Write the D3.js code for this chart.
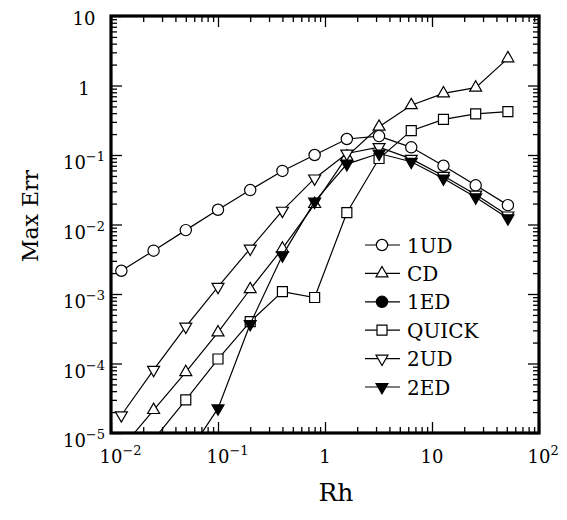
<!DOCTYPE html>
<html>
<head>
<meta charset="utf-8">
<script src="https://cdn.jsdelivr.net/npm/d3@7"></script>
<style>
  html, body { margin: 0; padding: 0; background: #fff; }
  svg { display: block; }
  text { font-family: "DejaVu Serif", serif; fill: #000; }
</style>
</head>
<body>
<svg id="chart" width="567" height="520"></svg>
<script>
// ---- data ----
const rh = [0.0125, 0.025, 0.05, 0.1, 0.2, 0.4, 0.8, 1.6, 3.2, 6.4, 12.8, 25.6, 51.2];
const err1UD  = [2.16e-3, 4.2e-3, 8.3e-3, 0.0163, 0.0313, 0.059, 0.10, 0.17, 0.187, 0.129, 0.070, 0.0366, 0.019];
const errCD   = [6e-6, 2.14e-5, 7.5e-5, 2.8e-4, 1.17e-3, 4.5e-3, 0.0197, 0.095, 0.255, 0.52, 0.77, 0.93, 2.46];
const err1ED  = [];
const errQUICK = [null, 8e-6, 3.0e-5, 1.16e-4, 4.0e-4, 1.08e-3, 8.9e-4, 0.0148, 0.089, 0.224, 0.326, 0.39, 0.42];
const err2UD  = [1.8e-5, 8.1e-5, 3.4e-4, 1.27e-3, 4.5e-3, 0.0158, 0.046, 0.105, 0.13, 0.088, 0.050, 0.027, 0.0135];
const err2ED  = [null, null, 4.5e-6, 2.26e-5, 3.7e-4, 3.6e-3, 0.0213, 0.074, 0.105, 0.080, 0.046, 0.0246, 0.0123];

const seriesNames = ["1UD", "CD", "1ED", "QUICK", "2UD", "2ED"];
const seriesValues = [err1UD, errCD, err1ED, errQUICK, err2UD, err2ED];
const seriesMarkers = ["circle", "triUp", "dot", "square", "triDown", "triDownFilled"];

const xTickExps = [-2, -1, 0, 1, 2];
const yTickExps = [1, 0, -1, -2, -3, -4, -5];
const xTitle = "Rh";
const yTitle = "Max Err";

// ---- layout ----
const L = 111, R = 539, T = 16, B = 433;
const svg = d3.select("#chart");

const x = d3.scaleLog().domain([1e-2, 1e2]).range([L, R]);
const y = d3.scaleLog().domain([1e-5, 1e1]).range([B, T]);

function minorTicks(lo, hi) {
  const out = [];
  for (let e = lo; e < hi; e++) for (let m = 2; m <= 9; m++) out.push(m * Math.pow(10, e));
  return out;
}
const xMajor = xTickExps.map(e => Math.pow(10, e));
const yMajor = yTickExps.map(e => Math.pow(10, e));
const xMinor = minorTicks(-2, 2);
const yMinor = minorTicks(-5, 1);

function drawAxis(axisFn, scale, vals, size, transform) {
  const g = svg.append("g").attr("transform", transform)
    .call(axisFn(scale).tickValues(vals).tickSizeInner(size).tickSizeOuter(0).tickFormat(""));
  g.select(".domain").remove();
  g.selectAll(".tick line").attr("stroke", "#000").attr("stroke-width", 1.3);
}
// inward ticks on all four sides
drawAxis(d3.axisBottom, x, xMajor, -11, `translate(0,${B})`);
drawAxis(d3.axisBottom, x, xMinor, -6, `translate(0,${B})`);
drawAxis(d3.axisTop, x, xMajor, -11, `translate(0,${T})`);
drawAxis(d3.axisTop, x, xMinor, -6, `translate(0,${T})`);
drawAxis(d3.axisLeft, y, yMajor, -11, `translate(${L},0)`);
drawAxis(d3.axisLeft, y, yMinor, -6, `translate(${L},0)`);
drawAxis(d3.axisRight, y, yMajor, -11, `translate(${R},0)`);
drawAxis(d3.axisRight, y, yMinor, -6, `translate(${R},0)`);

// frame
svg.append("rect").attr("x", L).attr("y", T).attr("width", R - L).attr("height", B - T)
  .attr("fill", "none").attr("stroke", "#000").attr("stroke-width", 3.2);

// tick labels
const minus = "\u2212";
function label(g, exp) {
  if (exp === 0) { g.append("tspan").text("1"); return; }
  if (exp === 1) { g.append("tspan").text("10"); return; }
  g.append("tspan").text("10");
  g.append("tspan").attr("font-size", 13).attr("dy", -8).text(exp < 0 ? minus + (-exp) : String(exp));
}
xTickExps.forEach(e => {
  const t = svg.append("text").attr("font-size", 18).attr("y", 463);
  label(t, e);
  const baseW = e === 0 ? 11.5 : 23;
  t.attr("x", x(Math.pow(10, e)) - baseW / 2);
});
yTickExps.forEach(e => {
  const t = svg.append("text").attr("font-size", 18).attr("text-anchor", "middle");
  label(t, e);
  const hasSup = !(e === 0 || e === 1);
  t.attr("x", 84).attr("y", y(Math.pow(10, e)) + (hasSup ? 14 : 9));
});

// axis titles
svg.append("text").attr("font-size", 25).attr("text-anchor", "middle")
  .attr("x", 336).attr("y", 501).text(xTitle);
svg.append("text").attr("font-size", 22).attr("text-anchor", "middle")
  .attr("transform", `translate(38,${216}) rotate(-90)`).text(yTitle);

// clip
svg.append("clipPath").attr("id", "clip").append("rect")
  .attr("x", L).attr("y", T).attr("width", R - L).attr("height", B - T);
const plot = svg.append("g").attr("clip-path", "url(#clip)");

function markerPath(kind) {
  if (kind === "circle" || kind === "dot") return d3.symbol(d3.symbolCircle, 100)();
  if (kind === "square") return d3.symbol(d3.symbolSquare, 100)();
  return d3.symbol(d3.symbolTriangle, 62)();
}
function drawMarker(g, kind, cx, cy) {
  const filled = kind === "dot" || kind === "triDownFilled";
  const rot = (kind === "triDown" || kind === "triDownFilled") ? " rotate(180)" : "";
  g.append("path").attr("d", markerPath(kind))
    .attr("transform", `translate(${cx},${cy})${rot}`)
    .attr("fill", filled ? "#000" : "#fff")
    .attr("stroke", "#000").attr("stroke-width", 1.2);
}

const line = d3.line().defined(d => d[1] != null).x(d => x(d[0])).y(d => y(d[1]));
seriesValues.forEach((vals, i) => {
  const pts = vals.map((v, k) => [rh[k], v]);
  const g = plot.append("g");
  g.append("path").datum(pts).attr("d", line).attr("fill", "none")
    .attr("stroke", "#000").attr("stroke-width", 1.2);
  pts.filter(d => d[1] != null).forEach(d => drawMarker(g, seriesMarkers[i], x(d[0]), y(d[1])));
});

// legend
const lg = svg.append("g");
seriesNames.forEach((name, i) => {
  const ly = 245 + i * 28.4;
  lg.append("line").attr("x1", 365).attr("x2", 400).attr("y1", ly).attr("y2", ly)
    .attr("stroke", "#000").attr("stroke-width", 1.2);
  drawMarker(lg, seriesMarkers[i], 382, ly);
  lg.append("text").attr("font-size", 20).attr("x", 407).attr("y", ly + 7.5).text(name);
});
</script>
</body>
</html>
